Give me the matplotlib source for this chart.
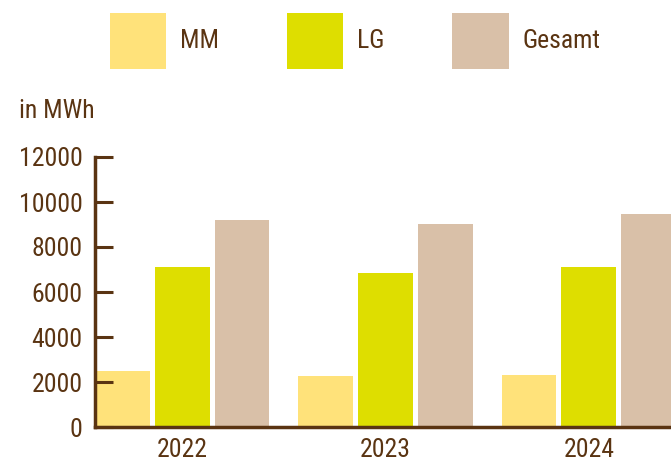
import numpy as np
import matplotlib
matplotlib.use('Agg')
import matplotlib.pyplot as plt
from matplotlib import font_manager

# data
years = ['2022', '2023', '2024']
mm = [2500, 2270, 2310]
lg = [7110, 6850, 7110]
gesamt = [9200, 9020, 9470]
series_names = ['MM', 'LG', 'Gesamt']
colors = ['#FFE27A', '#DEDE00', '#D9C0A8']
brown = '#5A3412'

# pick a condensed face if one is installed
names = {f.name for f in font_manager.fontManager.ttflist}
narrow = [n for n in ['Liberation Sans Narrow', 'Roboto Condensed', 'Open Sans Condensed',
                      'DejaVu Sans Condensed'] if n in names]
if narrow:
    family = narrow[0]
    fsize = 18.5
else:
    family = 'Liberation Sans'
    fsize = 16

plt.rcParams['font.family'] = [family, 'DejaVu Sans']
plt.rcParams['font.size'] = fsize

fig = plt.figure(figsize=(6.71, 4.61), dpi=100)
ax = fig.add_axes([95/671, 34/461, 1 - 95/671, (427 - 157)/461])

x = np.arange(len(years))
w = 0.27
step = 0.294
for i, (vals, name, c) in enumerate(zip([mm, lg, gesamt], series_names, colors)):
    ax.bar(x + (i - 1)*step, vals, width=w, color=c, label=name)

ax.set_xlim(-step - w/2, (671 - 180.5)/204)
ax.set_ylim(0, 12000)
ax.set_yticks(np.arange(0, 12001, 2000))
ax.set_xticks(x)
ax.set_xticklabels(years)

for s in ['top', 'right']:
    ax.spines[s].set_visible(False)
for s in ['left', 'bottom']:
    ax.spines[s].set_color(brown)
    ax.spines[s].set_linewidth(2.5)

ax.tick_params(axis='y', direction='in', length=13, width=2.2, color=brown,
               labelcolor=brown, pad=9)
ax.tick_params(axis='x', length=0, labelcolor=brown, pad=8)

fig.text(19/671, 1 - 111/461, 'in MWh', color=brown, ha='left', va='center')

leg = fig.legend(loc='upper left', bbox_to_anchor=(110/671, 1 - 13/461), ncol=3,
                 frameon=False, handlelength=2.19, handleheight=2.95,
                 handletextpad=0.53, columnspacing=2.65, borderpad=0,
                 borderaxespad=0, labelcolor=brown)

plt.savefig('out.png', dpi=100)
